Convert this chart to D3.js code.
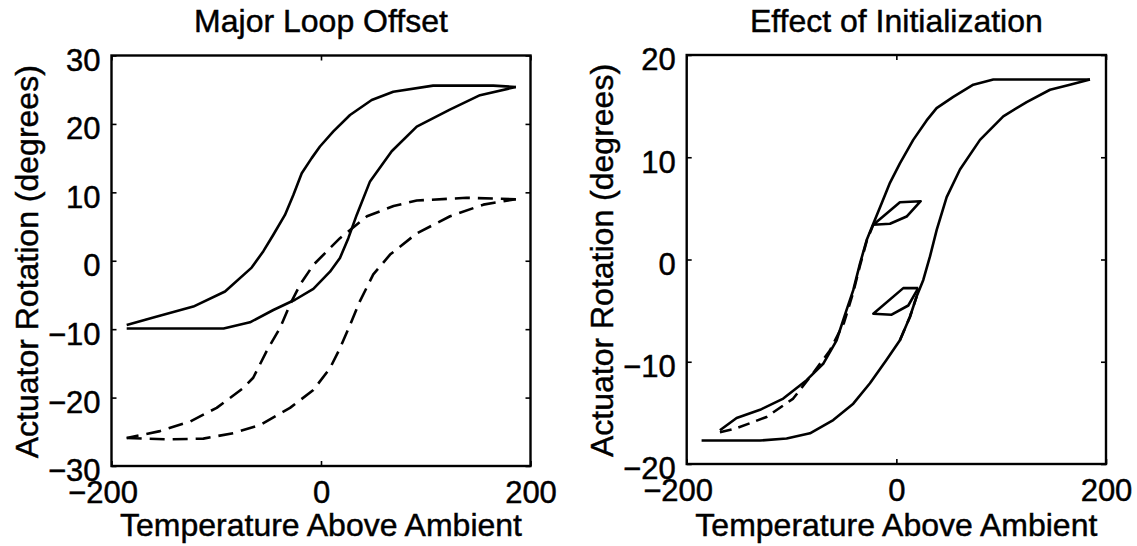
<!DOCTYPE html>
<html>
<head>
<meta charset="utf-8">
<script src="https://cdn.jsdelivr.net/npm/d3@7"></script>
<style>
  html, body { margin: 0; padding: 0; background: #fff; }
  svg { display: block; }
  text { font-family: "Liberation Sans", Arial, Helvetica, sans-serif; fill: #000; stroke: #000; stroke-width: 0.45px; }
</style>
</head>
<body>
<svg id="chart" width="1137" height="546"></svg>
<script>
// ---------------- DATA ----------------
const titles = ["Major Loop Offset", "Effect of Initialization"];
const xLabel = "Temperature Above Ambient";
const yLabel = "Actuator Rotation (degrees)";
const xTicks = [-200, 0, 200];
const yTicksLeft = [-30, -20, -10, 0, 10, 20, 30];
const yTicksRight = [-20, -10, 0, 10, 20];

// Left panel: solid major loop, descending branch (temperature decreasing)
const leftSolidDownX = [186, 164.5, 107, 69, 48.4, 27.7, 11.8, -1, -8.9, -18.4, -26.4, -34.4, -45.5, -55, -66.2, -91.6, -121.9, -160, -185.5];
const leftSolidDownY = [25.4, 25.6, 25.6, 24.7, 23.5, 21.3, 18.9, 16.7, 15.0, 12.8, 9.6, 6.7, 3.8, 1.4, -1.0, -4.5, -6.7, -8.3, -9.4];
// Left panel: solid major loop, ascending branch
const leftSolidUpX = [-185.5, -93, -67.8, -45.5, -24.8, -7.3, 8.6, 18.1, 26.1, 34.1, 46.8, 67.5, 91.4, 123, 151.8, 186];
const leftSolidUpY = [-9.9, -9.9, -9.0, -7.2, -5.7, -4.1, -1.6, 0.4, 3.3, 6.7, 11.6, 16.0, 19.6, 22.1, 24.2, 25.4];
// Left panel: dashed loop, descending branch
const leftDashDownX = [186, 139, 91.4, 69.3, 43.9, 18.1, -7.3, -20, -29.6, -39, -51.9, -64.7, -74.2, -99.6, -125, -153.7, -185.5];
const leftDashDownY = [9.0, 9.2, 8.8, 8.0, 6.5, 3.3, -0.6, -3.5, -6.4, -9.8, -13.2, -17.1, -18.6, -21.5, -23.5, -24.9, -25.9];
// Left panel: dashed loop, ascending branch
const leftDashUpX = [-185.5, -147, -112.3, -83.7, -58.2, -29.6, -7.3, 8.6, 18.1, 27.7, 37.2, 49.9, 65.9, 91.4, 123.2, 155, 186];
const leftDashUpY = [-25.9, -26.1, -26.0, -25.2, -24.0, -21.5, -18.9, -15.7, -12.8, -9.4, -5.9, -2.0, 0.9, 4.0, 6.5, 8.2, 9.0];

// Right panel: outer loop, descending branch
const rightSolidDownX = [184.7, 92.5, 73.4, 54.3, 38.4, 28.9, 16.1, 3.4, -6.1, -14, -22, -28.3, -34.7, -41.1, -47.4, -57, -69.8, -85.6, -107.9, -130, -152.4, -168.3];
const rightSolidDownY = [17.6, 17.6, 17.1, 15.9, 14.8, 13.6, 11.7, 9.4, 7.5, 5.5, 3.5, 1.9, -0.4, -3.0, -4.9, -7.9, -10.2, -11.8, -13.6, -14.7, -15.5, -16.7];
// Right panel: outer loop, ascending branch
const rightSolidUpX = [-185.8, -130, -104.7, -82.4, -60.2, -41.1, -25.2, -9.3, 3.4, 13, 19.4, 25.7, 32.1, 38.5, 48, 60.7, 79.8, 102, 124.3, 146.6, 165.6, 184.7];
const rightSolidUpY = [-17.7, -17.7, -17.5, -17.0, -15.7, -14.1, -12.1, -9.8, -7.9, -5.6, -3.6, -2.0, 0.3, 2.9, 6.1, 8.8, 11.7, 14.0, 15.4, 16.6, 17.1, 17.6];
// Right panel: upper minor loop
const rightMinorUpperX = [-22, 3.4, 23.2, 9.8, -6.1, -22];
const rightMinorUpperY = [3.4, 5.6, 5.7, 4.2, 3.5, 3.4];
// Right panel: lower minor loop
const rightMinorLowerX = [20.9, 6.6, -22, -4.5, 11.4, 20.9];
const rightMinorLowerY = [-2.8, -2.8, -5.3, -5.4, -4.5, -2.8];
// Right panel: dashed path from the other initialization
const rightDashX = [-168.3, -152.4, -123.8, -98.4, -79.3, -63.4, -50, -41.1, -34.7, -28.3, -22];
const rightDashY = [-16.9, -16.5, -15.4, -13.6, -11.1, -8.9, -6.2, -3.2, -0.6, 1.8, 3.4];
const rightDash2X = [3.4, 13, 19.4];
const rightDash2Y = [-7.9, -5.6, -3.6];

// ---------------- DRAW ----------------
const svg = d3.select("#chart");
const FS = 31;

const panels = [
  { title: titles[0], xr: [111.5, 530.5], yr: [466, 55.5], yd: [-30, 30], yt: yTicksLeft, ylx: 38,
    series: [
      { x: leftSolidDownX, y: leftSolidDownY, dash: null },
      { x: leftSolidUpX, y: leftSolidUpY, dash: null },
      { x: leftDashDownX, y: leftDashDownY, dash: "15,8" },
      { x: leftDashUpX, y: leftDashUpY, dash: "15,8" }
    ] },
  { title: titles[1], xr: [686.7, 1106], yr: [464, 55], yd: [-20, 20], yt: yTicksRight, ylx: 613,
    series: [
      { x: rightSolidDownX, y: rightSolidDownY, dash: null },
      { x: rightSolidUpX, y: rightSolidUpY, dash: null },
      { x: rightMinorUpperX, y: rightMinorUpperY, dash: null },
      { x: rightMinorLowerX, y: rightMinorLowerY, dash: null },
      { x: rightDashX, y: rightDashY, dash: "12,7" },
      { x: rightDash2X, y: rightDash2Y, dash: "12,7" }
    ] }
];

panels.forEach(p => {
  const x = d3.scaleLinear().domain([-200, 200]).range(p.xr);
  const y = d3.scaleLinear().domain(p.yd).range(p.yr);
  const g = svg.append("g");

  // curves
  const line = d3.line().x(d => x(d[0])).y(d => y(d[1]));
  p.series.forEach(s => {
    const pts = s.x.map((v, i) => [v, s.y[i]]);
    g.append("path")
      .attr("d", line(pts))
      .attr("fill", "none")
      .attr("stroke", "#000")
      .attr("stroke-width", 2.6)
      .attr("stroke-linejoin", "round")
      .attr("stroke-dasharray", s.dash);
  });

  // axes (inward ticks)
  const bottom = g.append("g").attr("transform", `translate(0,${p.yr[0]})`)
    .call(d3.axisBottom(x).tickValues(xTicks).tickSizeInner(-5).tickSizeOuter(0).tickPadding(15)
      .tickFormat(d => d < 0 ? "\u2212" + Math.abs(d) : String(d)));
  const left = g.append("g").attr("transform", `translate(${p.xr[0]},0)`)
    .call(d3.axisLeft(y).tickValues(p.yt).tickSizeInner(-5).tickSizeOuter(0).tickPadding(11)
      .tickFormat(d => d < 0 ? "\u2212" + Math.abs(d) : String(d)));
  g.append("g").attr("transform", `translate(0,${p.yr[1]})`)
    .call(d3.axisTop(x).tickValues(xTicks).tickSizeInner(-5).tickSizeOuter(0).tickFormat(""));
  g.append("g").attr("transform", `translate(${p.xr[1]},0)`)
    .call(d3.axisRight(y).tickValues(p.yt).tickSizeInner(-5).tickSizeOuter(0).tickFormat(""));

  g.selectAll(".domain").remove();
  g.selectAll(".tick line").attr("stroke", "#000").attr("stroke-width", 1.6);
  g.selectAll(".tick text").attr("font-size", FS).attr("font-family", "Liberation Sans, Arial, sans-serif").attr("fill", "#000");
  left.selectAll(".tick text").attr("dy", "0.48em");

  // MATLAB-style: negative x labels centered on their digits
  bottom.selectAll(".tick text").each(function(d) {
    if (d < 0) {
      const t = d3.select(this);
      const tmp = g.append("text").attr("font-size", FS).text(String(Math.abs(d)));
      const w = tmp.node().getComputedTextLength();
      tmp.remove();
      t.attr("text-anchor", "end").attr("x", w / 2);
    }
  });

  // box
  g.append("rect")
    .attr("x", p.xr[0]).attr("y", p.yr[1])
    .attr("width", p.xr[1] - p.xr[0]).attr("height", p.yr[0] - p.yr[1])
    .attr("fill", "none").attr("stroke", "#000").attr("stroke-width", 2.4);

  const cx = (p.xr[0] + p.xr[1]) / 2;
  const cy = (p.yr[0] + p.yr[1]) / 2;
  g.append("text").attr("x", cx).attr("y", 32).attr("text-anchor", "middle")
    .attr("font-size", FS + 1).text(p.title);
  g.append("text").attr("x", cx).attr("y", 536).attr("text-anchor", "middle")
    .attr("font-size", FS + 1).text(xLabel);
  g.append("text").attr("transform", `translate(${p.ylx},${cy + 1}) rotate(-90)`)
    .attr("text-anchor", "middle").attr("font-size", FS + 1).text(yLabel);
});
</script>
</body>
</html>
